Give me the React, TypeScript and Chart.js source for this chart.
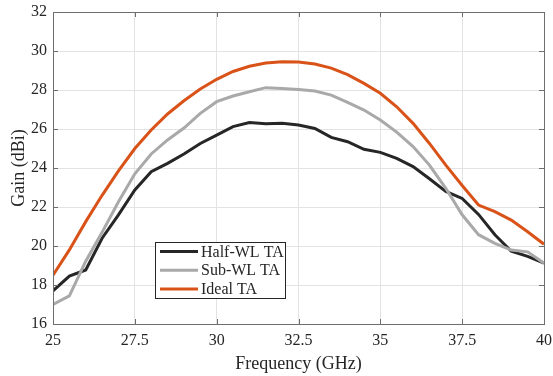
import React, { useEffect, useRef } from "react";
import { Chart, registerables } from "chart.js";

Chart.register(...registerables);

const freqs = [25, 25.5, 26, 26.5, 27, 27.5, 28, 28.5, 29, 29.5, 30, 30.5, 31, 31.5, 32, 32.5, 33, 33.5, 34, 34.5, 35, 35.5, 36, 36.5, 37, 37.5, 38, 38.5, 39, 39.5, 40];
const halfWL = [17.7, 18.46, 18.77, 20.4, 21.6, 22.87, 23.81, 24.24, 24.72, 25.26, 25.69, 26.12, 26.33, 26.27, 26.3, 26.2, 26.03, 25.57, 25.35, 24.96, 24.8, 24.49, 24.07, 23.45, 22.8, 22.44, 21.62, 20.58, 19.73, 19.47, 19.12];
const subWL = [17.0, 17.44, 19.22, 20.7, 22.27, 23.7, 24.72, 25.44, 26.05, 26.8, 27.4, 27.69, 27.91, 28.12, 28.08, 28.03, 27.95, 27.74, 27.36, 26.97, 26.46, 25.84, 25.1, 24.15, 22.96, 21.6, 20.58, 20.14, 19.79, 19.7, 19.12];
const idealTA = [18.5, 19.8, 21.25, 22.6, 23.85, 25.0, 25.95, 26.77, 27.45, 28.05, 28.55, 28.95, 29.22, 29.38, 29.45, 29.44, 29.33, 29.12, 28.79, 28.34, 27.83, 27.14, 26.29, 25.26, 24.15, 23.1, 22.1, 21.76, 21.33, 20.73, 20.09];
const seriesNames = ["Half-WL TA", "Sub-WL TA", "Ideal TA"];
const seriesColors = ["#262626", "#a9a9a9", "#d95319"];
const xTicks = [25, 27.5, 30, 32.5, 35, 37.5, 40];

const FONT = "'Liberation Serif', 'DejaVu Serif', serif";

const legendPlugin = {
  id: "boxLegend",
  afterDraw(chart: any) {
    const { ctx, chartArea } = chart;
    const x0 = chartArea.left + 102;
    const y0 = chartArea.top + 230;
    const w = 130;
    const h = 56;
    ctx.save();
    ctx.fillStyle = "#ffffff";
    ctx.fillRect(x0, y0, w, h);
    ctx.strokeStyle = "#262626";
    ctx.lineWidth = 1;
    ctx.strokeRect(x0 + 0.5, y0 + 0.5, w, h);
    ctx.font = "16px " + FONT;
    ctx.textBaseline = "middle";
    chart.data.datasets.forEach((ds: any, i: number) => {
      const yy = y0 + 9.5 + i * 18.7;
      ctx.strokeStyle = ds.borderColor;
      ctx.lineWidth = 3;
      ctx.beginPath();
      ctx.moveTo(x0 + 5, yy);
      ctx.lineTo(x0 + 43, yy);
      ctx.stroke();
      ctx.fillStyle = "#262626";
      ctx.fillText(ds.label, x0 + 46, yy + 1);
    });
    ctx.restore();
  },
};

const boxPlugin = {
  id: "axisBox",
  afterDatasetsDraw(chart: any) {
    const { ctx, chartArea, scales } = chart;
    ctx.save();
    ctx.strokeStyle = "#6e6e6e";
    ctx.lineWidth = 1;
    ctx.strokeRect(chartArea.left + 0.5, chartArea.top + 0.5, chartArea.right - chartArea.left, chartArea.bottom - chartArea.top);
    ctx.beginPath();
    xTicks.forEach((v) => {
      const px = Math.round(scales.x.getPixelForValue(v)) + 0.5;
      ctx.moveTo(px, chartArea.bottom);
      ctx.lineTo(px, chartArea.bottom - 5);
      ctx.moveTo(px, chartArea.top);
      ctx.lineTo(px, chartArea.top + 5);
    });
    for (let v = 16; v <= 32; v += 2) {
      const py = Math.round(scales.y.getPixelForValue(v)) + 0.5;
      ctx.moveTo(chartArea.left, py);
      ctx.lineTo(chartArea.left + 5, py);
      ctx.moveTo(chartArea.right, py);
      ctx.lineTo(chartArea.right - 5, py);
    }
    ctx.stroke();
    ctx.restore();
  },
};

export default function App() {
  const ref = useRef<HTMLCanvasElement>(null);
  useEffect(() => {
    if (!ref.current) return;
    const mk = (data: number[]) => freqs.map((f, i) => ({ x: f, y: data[i] }));
    const all = [halfWL, subWL, idealTA];
    const chart = new Chart(ref.current, {
      type: "line",
      data: {
        datasets: all.map((d, i) => ({
          label: seriesNames[i],
          data: mk(d),
          borderColor: seriesColors[i],
          backgroundColor: seriesColors[i],
          borderWidth: 3,
          pointRadius: 0,
          tension: 0,
          order: 3 - i,
        })),
      },
      options: {
        responsive: false,
        animation: false,
        layout: { padding: { left: 0, right: 9, top: 12, bottom: 0 } },
        plugins: { legend: { display: false }, tooltip: { enabled: false } },
        scales: {
          x: {
            type: "linear",
            min: 25,
            max: 40,
            afterBuildTicks: (s: any) => {
              s.ticks = xTicks.map((v) => ({ value: v }));
            },
            afterFit: (s: any) => {
              s.height = 52;
              s.paddingLeft = 0;
              s.paddingRight = 0;
            },
            grid: { color: "#e3e3e3", drawTicks: false },
            border: { display: false },
            ticks: {
              color: "#262626",
              font: { family: FONT, size: 16 },
              padding: 7,
              callback: (v: any) => String(v),
            },
            title: {
              display: true,
              text: "Frequency (GHz)",
              color: "#262626",
              font: { family: FONT, size: 18 },
              padding: { top: 0, bottom: 1 },
            },
          },
          y: {
            min: 16,
            max: 32,
            afterFit: (s: any) => {
              s.width = 53;
              s.paddingTop = 0;
              s.paddingBottom = 0;
            },
            grid: { color: "#e3e3e3", drawTicks: false },
            border: { display: false },
            ticks: {
              stepSize: 2,
              color: "#262626",
              font: { family: FONT, size: 16 },
              padding: 6,
            },
            title: {
              display: true,
              text: "Gain (dBi)",
              color: "#262626",
              font: { family: FONT, size: 18 },
              padding: { top: 8, bottom: 0 },
            },
          },
        },
      },
      plugins: [boxPlugin, legendPlugin],
    });
    return () => chart.destroy();
  }, []);
  return (
    <div style={{ position: "fixed", left: 0, top: 0, width: 553, height: 376, background: "#fff" }}>
      <canvas ref={ref} width={553} height={376} style={{ width: 553, height: 376, display: "block" }} />
    </div>
  );
}
